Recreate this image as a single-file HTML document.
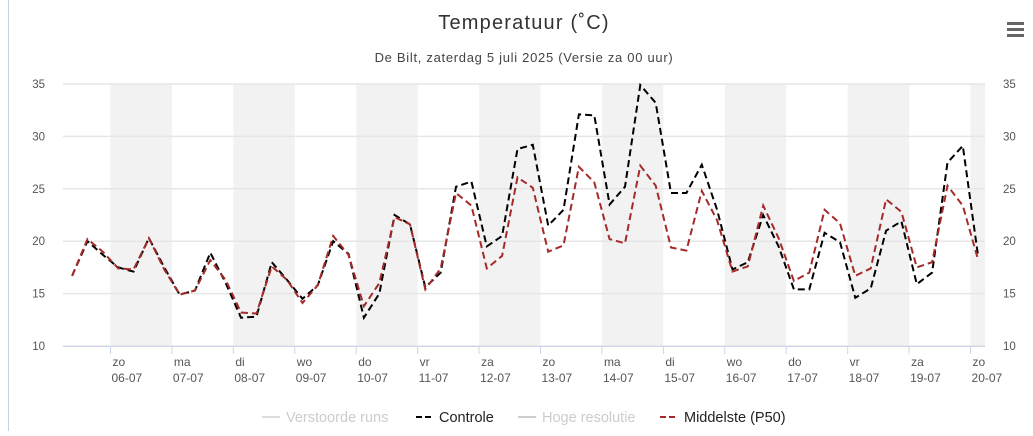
<!DOCTYPE html>
<html><head><meta charset="utf-8"><style>
body{margin:0;background:#fff;width:1033px;height:431px;overflow:hidden;font-family:"Liberation Sans",sans-serif}
svg text{font-family:"Liberation Sans",sans-serif}
</style></head><body>
<svg id="c" width="1033" height="431">
<line x1="8.5" y1="0" x2="8.5" y2="431" stroke="#c4d3ea"/>
<text x="524" y="29" text-anchor="middle" font-size="20" letter-spacing="1.2" fill="#333">Temperatuur (˚C)</text>
<text x="524" y="62" text-anchor="middle" font-size="13" letter-spacing="0.7" fill="#444">De Bilt, zaterdag 5 juli 2025 (Versie za 00 uur)</text>
<g>
<rect x="1007" y="22" width="17" height="3" fill="#666"/><rect x="1007" y="28" width="17" height="3" fill="#666"/><rect x="1007" y="34" width="17" height="3" fill="#666"/>
</g>
<g id="bands"></g><g id="grid"></g><g id="axes"></g><g id="series"></g>
<g>
<g><line x1="262" y1="417" x2="280" y2="417" stroke="#ddd" stroke-width="2"/><text x="286" y="422" font-size="14.5" fill="#ccc">Verstoorde runs</text></g>
<g><line x1="416" y1="417" x2="434" y2="417" stroke="#000" stroke-width="2" stroke-dasharray="6,3"/><text x="439" y="422" font-size="14.5" fill="#222">Controle</text></g>
<g><line x1="518" y1="417" x2="536" y2="417" stroke="#ccc" stroke-width="2"/><text x="542" y="422" font-size="14.5" fill="#ccc">Hoge resolutie</text></g>
<g><line x1="660" y1="417" x2="678" y2="417" stroke="#a52a2a" stroke-width="2" stroke-dasharray="6,3"/><text x="684" y="422" font-size="14.5" fill="#222">Middelste (P50)</text></g>
</g>
</svg>
<script>
const days=["zo","ma","di","wo","do","vr","za","zo","ma","di","wo","do","vr","za","zo"];
const dates=["06-07","07-07","08-07","09-07","10-07","11-07","12-07","13-07","14-07","15-07","16-07","17-07","18-07","19-07","20-07"];
const yTicks=[10,15,20,25,30,35];
const controle=[16.7,20,18.7,17.5,17.1,20.3,17.5,14.9,15.3,18.9,16,12.7,12.8,18,16.3,14.5,15.8,20,18.8,12.7,15,22.5,21.6,15.6,17,25.2,25.7,19.5,20.5,28.8,29.2,21.5,23,32.1,32,23.5,25.2,34.9,33.2,24.6,24.6,27.3,23,17.3,18,22.5,19.5,15.4,15.4,20.8,19.9,14.6,15.5,21,21.9,15.9,17,27.5,29.1,18.5];
const p50=[16.7,20.2,19,17.4,17.3,20.3,17.3,14.9,15.3,18.2,16.3,13.2,13.1,17.6,16.3,14.1,15.8,20.5,18.7,13.8,16,22.3,21.6,15.4,17.4,24.6,23.4,17.4,18.6,26.1,25.1,19,19.6,27.1,25.6,20.2,19.8,27.2,25.3,19.4,19.1,24.8,22,17.1,17.6,23.4,20.3,16.2,17,23,21.7,16.7,17.4,24,22.8,17.5,18,25.3,23.4,18.2];
const startHour=-15, stepHour=6;
const X0=63,X1=985,Y0=346,Y1=84;
const dayPx=61.43, day0X=110.5;
function xH(h){return day0X+h/24*dayPx;}
function y(v){return Y0-(v-10)/25*(Y0-Y1);}
const NS="http://www.w3.org/2000/svg";
function mk(t,a,p){const e=document.createElementNS(NS,t);for(const k in a)e.setAttribute(k,a[k]);p.appendChild(e);return e;}
const bands=document.getElementById('bands'),grid=document.getElementById('grid'),axes=document.getElementById('axes'),ser=document.getElementById('series');
for(let i=0;i<dates.length;i+=2){const a=xH(i*24),b=Math.min(xH(i*24+24),X1);
const r=mk('rect',{x:a,y:Y1,width:b-a,height:Y0-Y1,fill:'#f2f2f2'},bands);

}
yTicks.forEach(v=>{const l=mk('line',{x1:X0,x2:X1,y1:y(v),y2:y(v),stroke:'#e6e6e6','stroke-width':1.5},grid);


const t1=mk('text',{x:45,y:y(v)+4,'text-anchor':'end','font-size':11.5,fill:'#555'},axes);t1.textContent=v;


const t2=mk('text',{x:1003,y:y(v)+4,'font-size':11.5,fill:'#555'},axes);t2.textContent=v;

});
const ax=mk('line',{x1:X0,x2:X1,y1:Y0+0.5,y2:Y0+0.5,stroke:'#ccd6eb'},axes);


dates.forEach((d,i)=>{const x=xH(i*24);
const tk=mk('line',{x1:x,x2:x,y1:Y0,y2:Y0+8,stroke:'#ccd6eb'},axes);


const a=mk('text',{x:x+2,y:366,'font-size':12,fill:'#555'},axes);a.textContent=days[i];


const b=mk('text',{x:x+1,y:382,'font-size':12,fill:'#555'},axes);b.textContent=d;

});
function line(arr,col,name){const pts=arr.map((v,i)=>xH(startHour+i*stepHour).toFixed(1)+','+y(v).toFixed(1)).join(' ');
const p=mk('polyline',{points:pts,fill:'none',stroke:col,'stroke-width':2,'stroke-dasharray':'7,4'},ser);

}
line(controle,'#000','controle-line');
line(p50,'#a52a2a','p50-line');
</script>
</body></html>
